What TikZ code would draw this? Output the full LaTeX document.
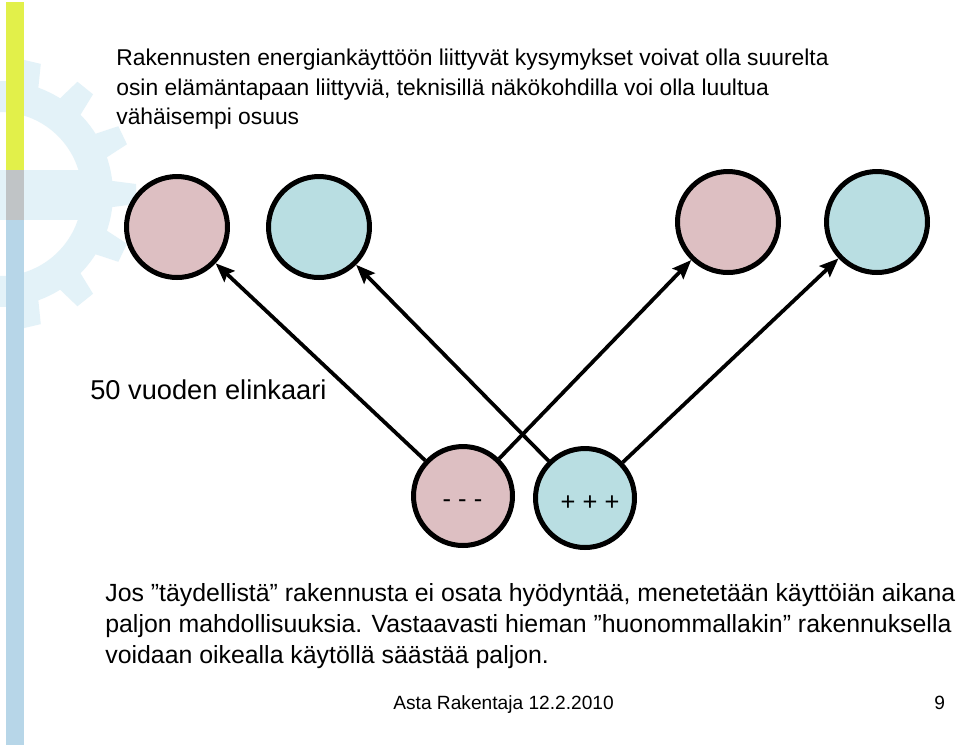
\documentclass[tikz,border=0pt]{standalone}
\usepackage{fontspec}
\setmainfont{Liberation Sans}
\usetikzlibrary{arrows.meta}
\definecolor{pinkc}{RGB}{221,191,194}
\definecolor{bluec}{RGB}{185,222,226}
\definecolor{gearc}{RGB}{227,242,248}
\definecolor{baryel}{RGB}{226,240,74}
\definecolor{bargray}{RGB}{192,196,198}
\definecolor{barblue}{RGB}{183,214,232}
\begin{document}
\begin{tikzpicture}[x=0.02cm,y=-0.02cm,
  ball/.style={circle,draw=black,line width=0.1cm,minimum size=1.98cm,inner sep=0pt},
  topball/.style={ball,minimum size=2.02cm},
  conn/.style={-{Stealth[length=0.38cm,width=0.3cm,inset=0.06cm]},line width=0.075cm},
  signtxt/.style={anchor=base,inner sep=0pt,font=\fontsize{14.5pt}{17pt}\selectfont},
  titletxt/.style={anchor=base west,inner sep=0pt,font=\fontsize{13.0pt}{16pt}\selectfont},
  bodytxt/.style={anchor=base west,inner sep=0pt,font=\fontsize{14.15pt}{17pt}\selectfont},
  foottxt/.style={anchor=base west,inner sep=0pt,font=\fontsize{10.9pt}{13pt}\selectfont}
]
\useasboundingbox[fill=white] (0,0) rectangle (959,752);
% gear decoration
\fill[gearc,even odd rule] (0,194) circle (2.26cm) (0,194) circle (1.64cm);
\foreach \k in {-4,...,4}{
  \fill[gearc,rotate around={25.6*\k:(0,194)}] (105,180) -- (136,184) -- (136,204) -- (105,208) -- cycle;
}
\fill[gearc] (0,170) rectangle (100,220);
% side bar
\fill[baryel] (6,2) rectangle (24,170);
\fill[bargray] (6,170) rectangle (24,220);
\fill[barblue] (6,220) rectangle (24,745);
% title
\node[titletxt] (l1) at (116,65) {Rakennusten energiankäyttöön liittyvät kysymykset voivat olla suurelta};
\node[titletxt] (l2) at (116,95) {osin elämäntapaan liittyviä, teknisillä näkökohdilla voi olla luultua};
\node[titletxt] (l3) at (116,124.5) {vähäisempi osuus};
% circles
\node[topball,fill=pinkc] (t1) at (177,227) {};
\node[topball,fill=bluec] (t2) at (319,227) {};
\node[topball,fill=pinkc] (t3) at (728,222) {};
\node[topball,fill=bluec] (t4) at (877,222) {};
\node[ball,fill=pinkc] (b1) at (463,496) {};
\node[ball,fill=bluec] (b2) at (585,498) {};
\node[signtxt] (s1) at (462.5,507) {- - -};
\node[signtxt] (s2) at (590,510) {+ + +};
% connectors
\draw[conn] (b1) -- (t1);
\draw[conn] (b2) -- (t2);
\draw[conn] (b1) -- (t3);
\draw[conn] (b2) -- (t4);
% labels
\node[anchor=base west,inner sep=0pt,font=\fontsize{15.5pt}{18pt}\selectfont] (life) at (90,399) {50 vuoden elinkaari};
\node[bodytxt] (p1) at (105,601) {Jos ”täydellistä” rakennusta ei osata hyödyntää, menetetään käyttöiän aikana};
\node[bodytxt] (p2) at (105,632) {paljon mahdollisuuksia. Vastaavasti hieman ”huonommallakin” rakennuksella};
\node[bodytxt] (p3) at (105,663) {voidaan oikealla käytöllä säästää paljon.};
\node[foottxt] (f1) at (393,709) {Asta Rakentaja 12.2.2010};
\node[foottxt] (f2) at (934,709) {9};
\end{tikzpicture}
\end{document}
